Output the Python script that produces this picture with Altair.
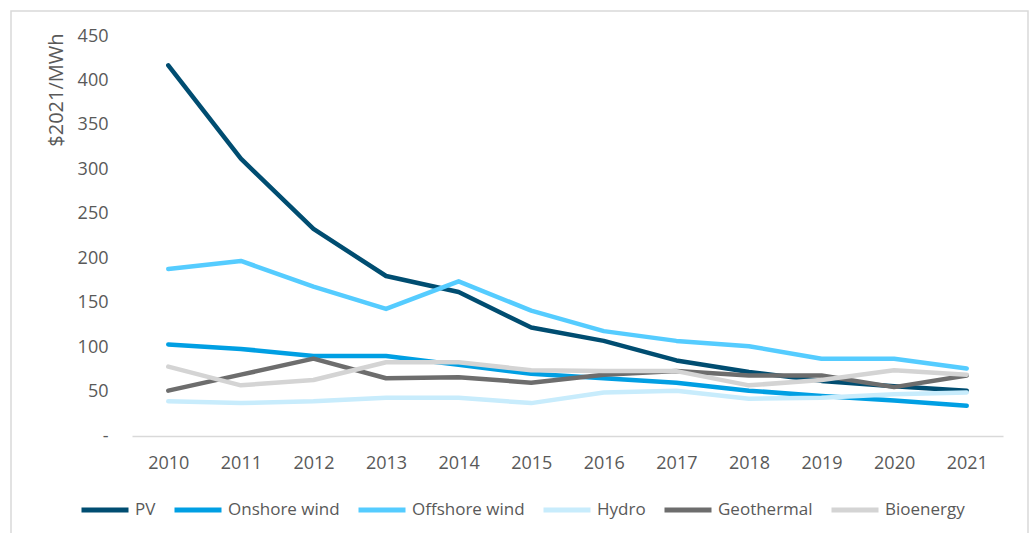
import altair as alt
import pandas as pd

years = [str(y) for y in range(2010, 2022)]
series_names = ["PV", "Onshore wind", "Offshore wind", "Hydro", "Geothermal", "Bioenergy"]
colors = ["#004D71", "#009FE3", "#55CCFF", "#C8ECFC", "#6D6D6D", "#D4D4D4"]

pv = [417, 312, 233, 180, 162, 122, 107, 85, 72, 62, 56, 51]
onshore = [103, 98, 90, 90, 80, 70, 65, 60, 51, 45, 40, 34]
offshore = [188, 197, 168, 143, 174, 141, 118, 107, 101, 87, 87, 76]
hydro = [39, 37, 39, 43, 43, 37, 49, 51, 42, 43, 47, 49]
geothermal = [51, 69, 87, 65, 66, 60, 69, 73, 68, 68, 55, 68]
bioenergy = [78, 57, 63, 83, 83, 74, 73, 73, 57, 63, 74, 69]

values = [pv, onshore, offshore, hydro, geothermal, bioenergy]
rows = []
for i, (name, vals) in enumerate(zip(series_names, values)):
    for y, v in zip(years, vals):
        rows.append({"Year": y, "Series": name, "Value": v, "order": i})
df = pd.DataFrame(rows)

FONT = "Open Sans"
TXT = "#595959"

border = alt.Chart(alt.Data(values=[{}])).mark_rect(
    fill=None, stroke="#D9D9D9", strokeWidth=1.5
).encode(
    x=alt.value(-121), x2=alt.value(896), y=alt.value(-25), y2=alt.value(504)
)

lines = alt.Chart(df).mark_line(strokeWidth=4.5, strokeCap="round", strokeJoin="round").encode(
    x=alt.X("Year:O", sort=years, scale=alt.Scale(type="point", padding=0.5),
            axis=alt.Axis(title=None, labelAngle=0, ticks=False, tickSize=0,
                          domainColor="#D9D9D9", domainWidth=1.5,
                          labelPadding=18, labelFontSize=18, labelColor=TXT,
                          labelFont=FONT, grid=False)),
    y=alt.Y("Value:Q", scale=alt.Scale(domain=[0, 450], nice=False, zero=True),
            axis=alt.Axis(title="$2021/MWh", values=list(range(0, 451, 50)),
                          labelExpr="datum.value == 0 ? '-\u00a0\u00a0' : datum.label",
                          ticks=False, tickSize=0, domain=False, grid=False,
                          labelPadding=24, labelFontSize=18, labelColor=TXT, labelFont=FONT,
                          titleFont=FONT, titleFontSize=20, titleColor=TXT, titleFontWeight="normal",
                          titleAngle=-90, titleX=-76, titleY=-3, titleAlign="right",
                          titleBaseline="middle")),
    color=alt.Color("Series:N", sort=series_names,
                    scale=alt.Scale(domain=series_names, range=colors),
                    legend=alt.Legend(title=None, orient="none", direction="horizontal",
                                      legendX=-53, legendY=448, symbolType="stroke",
                                      symbolSize=2209, symbolStrokeWidth=5,
                                      labelOffset=4, columnPadding=8,
                                      labelFont=FONT, labelFontSize=17, labelColor=TXT)),
    order=alt.Order("order:Q"),
    detail="Series:N",
)

chart = alt.layer(border, lines).properties(
    width=871, height=400,
    autosize=alt.AutoSizeParams(type="none"),
    padding={"left": 132, "top": 36, "right": 26, "bottom": 97},
    background="white",
).configure_view(stroke=None)

chart.save("out.html", embed_options={"renderer": "svg", "actions": False})
